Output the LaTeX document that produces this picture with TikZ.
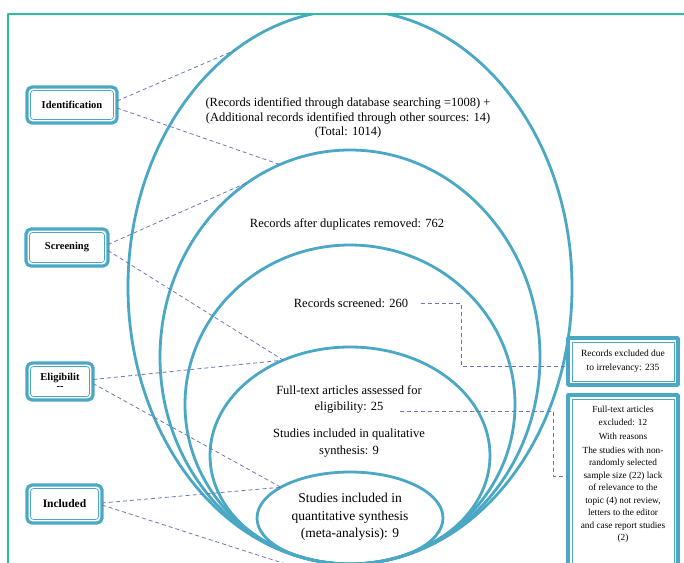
\documentclass[tikz,border=0pt]{standalone}
\usepackage{fontspec}
\setmainfont{Liberation Serif}
\usetikzlibrary{shapes.geometric}
\definecolor{ringc}{RGB}{74,168,196}
\definecolor{framec}{RGB}{40,190,165}
\definecolor{dashc}{RGB}{105,120,180}
\tikzset{
  ring/.style={ellipse, draw=ringc, line width=2.8pt, inner sep=0pt, outer sep=0pt},
  link/.style={draw=dashc, line width=0.8pt, dash pattern=on 4pt off 3pt},
  stagebox/.style={draw=ringc, line width=3.2pt, rounded corners=5pt, anchor=west,
    minimum height=36pt, inner sep=2pt, align=center, outer sep=0pt,
    font=\fontsize{10.5}{11}\selectfont\bfseries,
    path picture={\draw[ringc, line width=0.7pt, rounded corners=3pt]
      ([shift={(3.5pt,-3.5pt)}]path picture bounding box.north west) rectangle
      ([shift={(-3.5pt,3.5pt)}]path picture bounding box.south east);}},
  notebox/.style={draw=ringc, line width=3.5pt, minimum width=110pt, outer sep=0pt,
    path picture={\draw[ringc, line width=0.7pt]
      ([shift={(4pt,-4pt)}]path picture bounding box.north west) rectangle
      ([shift={(-4pt,4pt)}]path picture bounding box.south east);}},
  stagetext/.style={align=center, font=\fontsize{12.5}{14.8}\selectfont}
}
\begin{document}
\begin{tikzpicture}[x=1pt, y=-1pt, line join=round]
  \useasboundingbox (0,0) rectangle (684,562);
  \clip (0,0) rectangle (684,562);
  % outer frame
  \draw[framec, line width=1.2pt] (8,570) -- (8,14) -- (690,14);
  \begin{scope}
    \clip (8,15) rectangle (684,562);
    % nested rings, all touching at the bottom
    \node[ring, minimum width=444pt, minimum height=554pt] (e1) at (350,287) {};
    \node[ring, minimum width=380pt, minimum height=414pt] (e2) at (350,357) {};
    \node[ring, minimum width=330pt, minimum height=319pt] (e3) at (350,404.5) {};
    \node[ring, minimum width=280pt, minimum height=217pt] (e4) at (350,455.5) {};
    \node[ring, minimum width=186pt, minimum height=92pt] (e5) at (350,518) {};
  \end{scope}
  % texts in the rings
  \node[stagetext] (t1) at (348,118) {(Records identified through database searching =1008) +\\
    (Additional records identified through other sources: 14)\\(Total: 1014)};
  \node[stagetext] (t2) at (347,224) {Records after duplicates removed: 762};
  \node[stagetext] (t3) at (351,303) {Records screened: 260};
  \node[stagetext, font=\fontsize{12.5}{16}\selectfont] (t4) at (349,399) {Full-text articles assessed for\\eligibility: 25};
  \node[stagetext, font=\fontsize{12.5}{17}\selectfont] (t5) at (349,443) {Studies included in qualitative\\synthesis: 9};
  \node[stagetext, font=\fontsize{13.5}{17.5}\selectfont] (t6) at (350,517) {Studies included in\\quantitative synthesis\\(meta-analysis): 9};
  % stage labels
  \node[stagebox, minimum width=90pt] (id) at (27,105) {Identification};
  \node[stagebox, minimum width=82pt, minimum height=37pt] (scr) at (26,247.5) {Screening};
  \node[stagebox, minimum width=66pt, minimum height=37pt] (elg) at (27,381.5) {Eligibilit\\[-2pt]-{}-};
  \node[stagebox, minimum width=75pt, minimum height=38pt, font=\fontsize{11.5}{12}\selectfont\bfseries] (inc) at (27,504) {Included};
  % exclusion boxes
  \node[notebox, minimum height=47pt, align=center, font=\fontsize{9.5}{14}\selectfont] (x1) at (623,361.5) {Records excluded due\\to irrelevancy: 235};
  \node[notebox, minimum height=176pt, anchor=north] (x2) at (623,395) {};
  \node[anchor=north, align=center, font=\fontsize{9.3}{12.5}\selectfont] (x2t) at ([yshift=-8pt]x2.north) {Full-text articles\\excluded: 12\\[1.5pt]
    With reasons\\[1.5pt]The studies with non-\\randomly selected\\sample size (22) lack\\of relevance to the\\topic (4) not review,\\letters to the editor\\and case report studies\\(2)};
  % dashed connectors
  \coordinate (bot) at (292,566);
  \draw[link] ([yshift=4pt]id.east) -- (e1.116.7);
  \draw[link] ([yshift=-3pt]id.east) -- (e2.110.8);
  \draw[link] ([yshift=3pt]scr.east) -- (e2.120.6);
  \draw[link] ([yshift=-3pt]scr.east) -- (e4.125.8);
  \draw[link] ([yshift=2pt]elg.east) -- (e4.125.8);
  \draw[link] ([yshift=-2pt]elg.east) -- (e5.156);
  \draw[link] ([yshift=1pt]inc.east) -- (e5.156);
  \draw[link] ([yshift=-1pt]inc.east) -- (bot);
  \coordinate (k1) at (461,366);
  \draw[link] ([xshift=9pt]t3.east) -| (k1) -- (k1 -| x1.west);
  \coordinate (k2a) at (400,411);
  \coordinate (k2) at (553,476);
  \draw[link] (k2a) -| (k2) -- (k2 -| x2.west);
\end{tikzpicture}
\end{document}
